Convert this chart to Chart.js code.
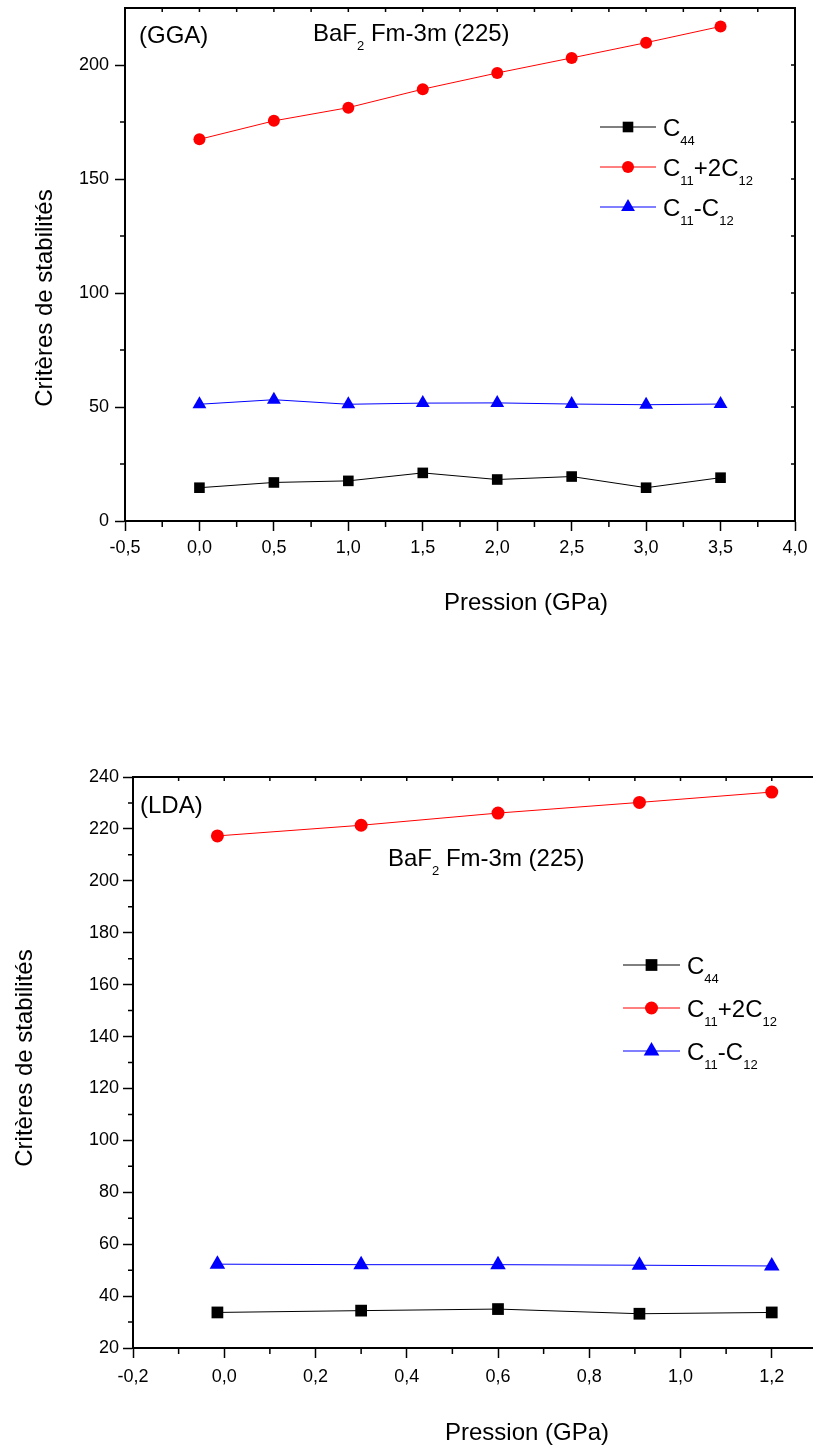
<!DOCTYPE html>
<html>
<head>
<meta charset="utf-8">
<script src="https://cdn.jsdelivr.net/npm/chart.js@4.4.0/dist/chart.umd.min.js"></script>
<style>
html,body{margin:0;padding:0;background:#fff;overflow:hidden;}
canvas{display:block;}
#wrapB{width:813px;height:804px;overflow:hidden;}
</style>
</head>
<body>
<canvas id="gga" width="813" height="650"></canvas>
<div id="wrapB"><canvas id="lda" width="880" height="804"></canvas></div>
<script>
// ---- data ----
const ggaPressure   = [0.0, 0.5, 1.0, 1.5, 2.0, 2.5, 3.0, 3.5];
const ggaC44        = [14.6, 16.9, 17.6, 21.1, 18.2, 19.5, 14.6, 19.0];
const ggaC11p2C12   = [167.4, 175.5, 181.3, 189.4, 196.5, 203.1, 209.8, 216.9];
const ggaC11mC12    = [51.2, 53.2, 51.2, 51.7, 51.8, 51.3, 51.0, 51.3];
const ggaXTicks     = [-0.5, 0.0, 0.5, 1.0, 1.5, 2.0, 2.5, 3.0, 3.5, 4.0];
const ggaYTicks     = [0, 50, 100, 150, 200];

const ldaPressure   = [-0.015, 0.3, 0.6, 0.91, 1.2];
const ldaC44        = [33.7, 34.4, 35.0, 33.2, 33.7];
const ldaC11p2C12   = [217.3, 221.4, 226.1, 230.2, 234.2];
const ldaC11mC12    = [52.3, 52.1, 52.1, 51.9, 51.6];
const ldaXTicks     = [-0.2, 0.0, 0.2, 0.4, 0.6, 0.8, 1.0, 1.2, 1.4];
const ldaYTicks     = [20, 40, 60, 80, 100, 120, 140, 160, 180, 200, 220, 240];

// legend labels as [text, isSubscript]
const legendLabels = [
  [['C'], ['44', 1]],
  [['C'], ['11', 1], ['+2C'], ['12', 1]],
  [['C'], ['11', 1], ['-C'], ['12', 1]]
];
const xTitle = 'Pression (GPa)';
const yTitle = 'Critères de stabilités';
const FONT = '"Liberation Sans", Arial, sans-serif';

Chart.defaults.font.family = FONT;
Chart.defaults.color = '#000';

function drawRich(ctx, x, y, parts, size){
  ctx.textAlign = 'left'; ctx.textBaseline = 'alphabetic';
  parts.forEach(([t, sub])=>{
    const s = sub ? Math.round(size*0.56) : size;
    ctx.font = s + 'px ' + FONT;
    ctx.fillText(t, x, sub ? y + size*0.38 : y);
    x += ctx.measureText(t).width;
  });
}

function drawMarker(ctx, style, x, y, r, color){
  ctx.fillStyle = color;
  ctx.beginPath();
  if(style === 'rect'){
    const s = Math.SQRT1_2*r;
    ctx.rect(x-s, y-s, 2*s, 2*s);
  } else if(style === 'triangle'){
    const w = r*Math.sin(2*Math.PI/3);
    ctx.moveTo(x, y-r); ctx.lineTo(x+w, y+r/2); ctx.lineTo(x-w, y+r/2); ctx.closePath();
  } else {
    ctx.arc(x, y, r, 0, 2*Math.PI);
  }
  ctx.fill();
}

// frame, minor ticks, titles, notes and legend
const framePlugin = {
  id: 'frame',
  afterDraw(chart, args, o){
    const {ctx, chartArea: a, scales: {x, y}} = chart;
    const xt = x.ticks.map(t=>t.value), yt = y.ticks.map(t=>t.value);
    const mids = arr => arr.slice(1).map((v,i)=>(v+arr[i])/2);
    ctx.save();
    ctx.strokeStyle = '#000';
    ctx.lineWidth = 2;
    ctx.beginPath();
    ctx.moveTo(a.left, a.top); ctx.lineTo(a.right, a.top); ctx.lineTo(a.right, a.bottom);
    ctx.stroke();

    ctx.lineWidth = 1.5;
    ctx.beginPath();
    mids(xt).forEach(v=>{ const p = x.getPixelForValue(v); ctx.moveTo(p, a.bottom); ctx.lineTo(p, a.bottom+6); });
    mids(yt).forEach(v=>{ const p = y.getPixelForValue(v); ctx.moveTo(a.left, p); ctx.lineTo(a.left-5, p); });
    xt.concat(mids(xt)).forEach(v=>{ const p = x.getPixelForValue(v); ctx.moveTo(p, a.top); ctx.lineTo(p, a.top+4); });
    yt.concat(mids(yt)).forEach(v=>{ const p = y.getPixelForValue(v); ctx.moveTo(a.right, p); ctx.lineTo(a.right-4, p); });
    ctx.stroke();

    ctx.fillStyle = '#000';
    ctx.font = '24px ' + FONT;
    ctx.textAlign = 'center'; ctx.textBaseline = 'middle';
    ctx.fillText(xTitle, o.xTitlePos[0], o.xTitlePos[1]);
    ctx.save();
    ctx.translate(o.yTitlePos[0], o.yTitlePos[1]);
    ctx.rotate(-Math.PI/2);
    ctx.fillText(yTitle, 0, 0);
    ctx.restore();

    o.notes.forEach(n=>{ ctx.fillStyle = '#000'; drawRich(ctx, n.x, n.y, n.parts, 24); });

    const L = o.legend;
    chart.data.datasets.forEach((ds, i)=>{
      const ly = L.y + i*L.gap;
      ctx.strokeStyle = ds.borderColor; ctx.lineWidth = 1;
      ctx.beginPath(); ctx.moveTo(L.x, ly); ctx.lineTo(L.x + L.len, ly); ctx.stroke();
      drawMarker(ctx, ds.pointStyle, L.x + L.len/2, ly, ds.pointRadius, ds.borderColor);
      ctx.fillStyle = '#000';
      drawRich(ctx, L.x + L.len + 7, ly + 8.5, legendLabels[i], 24);
    });
    ctx.restore();
  }
};

function series(xs, ys, color, style, r){
  return {
    data: xs.map((v,i)=>({x: v, y: ys[i]})),
    borderColor: color, backgroundColor: color,
    pointBackgroundColor: color, pointBorderColor: color,
    pointStyle: style, pointRadius: r, pointHoverRadius: r,
    pointBorderWidth: 0, borderWidth: 1, showLine: true, tension: 0, fill: false
  };
}

const fmt = v => Math.abs(v) < 1e-9 ? '0,0' : v.toFixed(1).replace('.', ',');

function axis(min, max, ticks, opts){
  return {
    type: 'linear', min, max,
    afterBuildTicks: s => { s.ticks = ticks.map(v=>({value: v})); },
    afterFit: s => {
      s.paddingTop = 0; s.paddingBottom = 0; s.paddingLeft = 0; s.paddingRight = 0;
      if(opts.width) s.width = opts.width;
      if(opts.height) s.height = opts.height;
    },
    grid: {display: true, drawOnChartArea: false, drawTicks: true, tickLength: 10, tickColor: '#000', tickWidth: 1.5, color: '#000'},
    border: {display: true, color: '#000', width: 2},
    ticks: {autoSkip: false, maxRotation: 0, padding: opts.pad, color: '#000',
            font: {size: 18, family: FONT}, callback: opts.cb}
  };
}

function makeChart(id, xs, c44, cplus, cminus, cfg){
  return new Chart(document.getElementById(id), {
    type: 'scatter',
    data: {datasets: [
      series(xs, c44, '#000000', 'rect', cfg.r[0]),
      series(xs, cplus, '#ff0000', 'circle', cfg.r[1]),
      series(xs, cminus, '#0000ff', 'triangle', cfg.r[2])
    ]},
    options: {
      responsive: false, animation: false, events: [],
      layout: {padding: cfg.padding},
      plugins: {legend: {display: false}, tooltip: {enabled: false}, frame: cfg.frame},
      scales: {x: cfg.x, y: cfg.y}
    },
    plugins: [framePlugin]
  });
}

makeChart('gga', ggaPressure, ggaC44, ggaC11p2C12, ggaC11mC12, {
  r: [7.5, 6, 8],
  padding: {top: 7, right: 18, left: 0, bottom: 0},
  x: axis(-0.5, 4.0, ggaXTicks, {height: 129, pad: 6, cb: v => fmt(v)}),
  y: axis(0, 225, ggaYTicks, {width: 125, pad: 6, cb: v => String(v)}),
  frame: {
    xTitlePos: [526, 603], yTitlePos: [45, 298],
    notes: [
      {x: 139, y: 42.5, parts: [['(GGA)']]},
      {x: 313, y: 41, parts: [['BaF'], ['2', 1], [' Fm-3m (225)']]}
    ],
    legend: {x: 600, y: 127, gap: 40, len: 56}
  }
});

makeChart('lda', ldaPressure, ldaC44, ldaC11p2C12, ldaC11mC12, {
  r: [8.3, 6.5, 9],
  padding: {top: 127, right: 17, left: 0, bottom: 0},
  x: axis(-0.2, 1.4, ldaXTicks, {height: 106, pad: 8, cb: v => fmt(v)}),
  y: axis(20, 240, ldaYTicks, {width: 133, pad: 4, cb: v => String(v)}),
  frame: {
    xTitlePos: [527, 783], yTitlePos: [25, 408],
    notes: [
      {x: 140, y: 163, parts: [['(LDA)']]},
      {x: 388, y: 216, parts: [['BaF'], ['2', 1], [' Fm-3m (225)']]}
    ],
    legend: {x: 623, y: 315, gap: 43, len: 57}
  }
});
</script>
</body>
</html>
